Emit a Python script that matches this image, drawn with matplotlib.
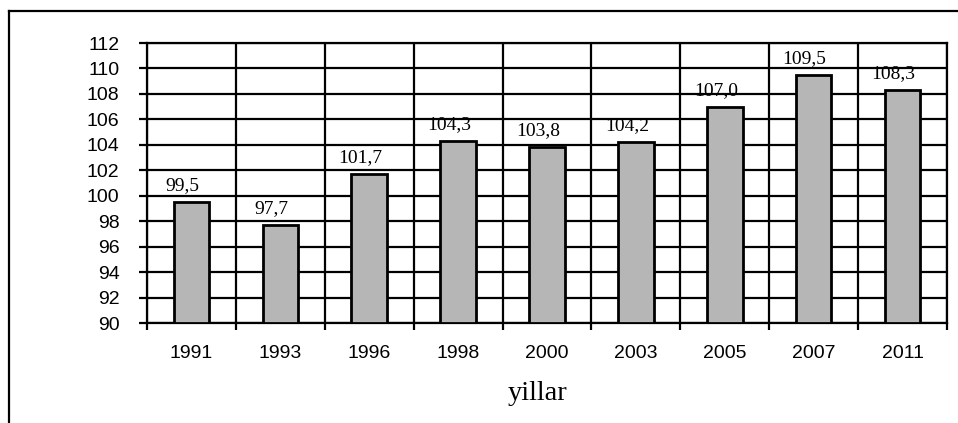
import matplotlib
matplotlib.use("Agg")
import matplotlib.pyplot as plt
from matplotlib.lines import Line2D
import numpy as np

years = ["1991", "1993", "1996", "1998", "2000", "2003", "2005", "2007", "2011"]
values = [99.5, 97.7, 101.7, 104.3, 103.8, 104.2, 107.0, 109.5, 108.3]
value_labels = ["99,5", "97,7", "101,7", "104,3", "103,8", "104,2", "107,0", "109,5", "108,3"]
y_ticks = list(range(90, 113, 2))
x_title = "yillar"

W, H = 958, 423
fig = plt.figure(figsize=(W / 100, H / 100), dpi=100)
fig.patch.set_facecolor("white")

# outer frame (top and left edges)
fig.add_artist(Line2D([9 / W, 1.0], [1 - 11 / H, 1 - 11 / H], color="black", lw=1.6,
                      transform=fig.transFigure))
fig.add_artist(Line2D([9 / W, 9 / W], [0.0, 1 - 11 / H], color="black", lw=1.6,
                      transform=fig.transFigure))

ax = fig.add_axes([147 / W, (H - 323) / H, 800 / W, 280 / H])
x = np.arange(len(years))
ax.set_xlim(-0.5, len(years) - 0.5)
ax.set_ylim(90, 112)

ax.bar(x, [v - 90 for v in values], bottom=90, width=0.4, color="#b6b6b6",
       edgecolor="black", linewidth=2.0, zorder=3)

for xi, v, lab in zip(x, values, value_labels):
    ax.annotate(lab, (xi, v), xytext=(-6.5, 8.5), textcoords="offset points",
                ha="center", va="baseline", fontsize=14, family="Liberation Serif",
                zorder=4)

ax.set_yticks(y_ticks)
ax.set_yticklabels([str(t) for t in y_ticks], fontsize=14, family="Liberation Sans")
ax.set_xticks(x)
ax.set_xticklabels(years, fontsize=14, family="Liberation Sans")
ax.set_xticks(np.arange(-0.5, len(years), 1.0), minor=True)

ax.tick_params(axis="x", which="major", length=0, pad=16)
ax.tick_params(axis="x", which="minor", length=5, width=1.6, direction="out")
ax.tick_params(axis="y", which="major", length=5.8, width=1.6, direction="out", pad=14)

ax.grid(True, axis="y", which="major", color="black", lw=1.6, zorder=1)
ax.grid(True, axis="x", which="minor", color="black", lw=1.6, zorder=1)
ax.set_axisbelow(True)
for s in ax.spines.values():
    s.set_linewidth(1.6)

fig.text(538 / W, 1 - 393 / H, x_title, ha="center", va="center", fontsize=20.5,
         family="Liberation Serif")

fig.savefig("out.png", dpi=100)
